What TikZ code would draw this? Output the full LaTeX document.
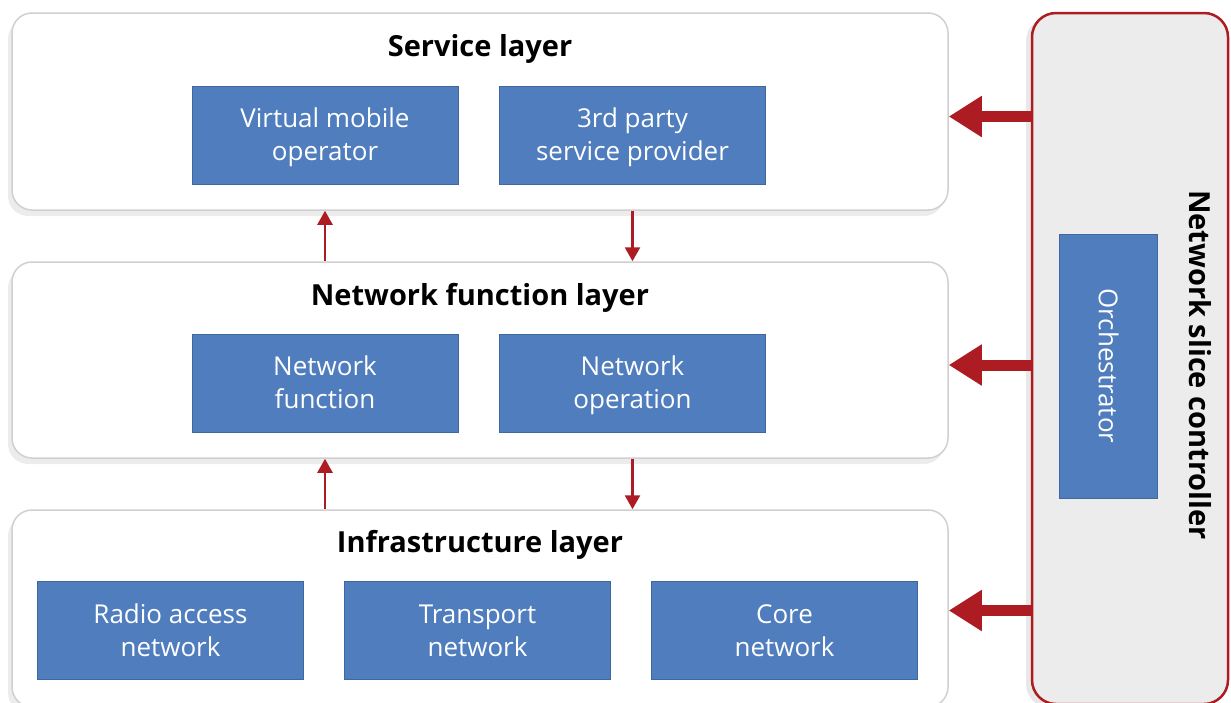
\documentclass[tikz,border=0pt]{standalone}
\usepackage{fontspec}
\setmainfont{Open Sans}
\usetikzlibrary{arrows.meta,shadows}
\definecolor{boxblue}{RGB}{79,125,189}
\definecolor{boxedge}{RGB}{62,104,158}
\definecolor{ctrlred}{RGB}{172,28,34}
\definecolor{ctrlgray}{RGB}{236,236,236}
\definecolor{layeredge}{RGB}{208,208,208}

\begin{document}
\begin{tikzpicture}[x=1pt,y=-1pt,
	layer/.style={draw=layeredge, line width=1.5pt, fill=white, rounded corners=20pt,
		minimum width=936pt, minimum height=197pt,
		drop shadow={opacity=0.15, shadow xshift=-4pt, shadow yshift=-6pt}},
	title/.style={font=\fontsize{29}{34}\selectfont\bfseries},
	block/.style={draw=boxedge, line width=1pt, fill=boxblue, text=white, align=center,
		minimum width=266pt, minimum height=98pt, font=\fontsize{26}{33}\selectfont,
		text height=61pt, text depth=10pt},
	uparrow/.style={draw=ctrlred, line width=2.5pt, -{Triangle[width=15pt,length=14pt]}},
	bigarrow/.style={draw=ctrlred, line width=11pt, -{Triangle[width=39pt,length=33pt]}}]
	%% page
	\useasboundingbox (0,0) rectangle (1231,702);
	\clip (0,0) rectangle (1231,702);
	%% controller
	\node[draw=ctrlred, line width=2.5pt, fill=ctrlgray, rounded corners=24pt,
		minimum width=196pt, minimum height=691pt,
		drop shadow={opacity=0.18, shadow xshift=-6pt, shadow yshift=-4pt}] (ctrl) at (1130,358.5) {};
	\node[rotate=-90, title] (ctrltitle) at (1200,365) {Network slice controller};
	\node[rotate=-90, draw=boxedge, line width=1pt, fill=boxblue, text=white,
		minimum width=264pt, minimum height=98pt, font=\fontsize{26}{33}\selectfont] (orch) at (1108.5,366) {Orchestrator};
	%% layers
	\node[layer] (service) at (480,111.5) {};
	\node[layer, minimum height=196pt] (nfl) at (480,360) {};
	\node[layer] (infra) at (480,608.5) {};
	\node[title] (svctitle) at (480,49) {Service layer};
	\node[title] (nfltitle) at (480,298) {Network function layer};
	\node[title] (infratitle) at (480,545) {Infrastructure layer};
	%% blocks
	\node[block] (vmo) at (325,135) {Virtual mobile\\operator};
	\node[block] (third) at (632.5,135) {3rd party\\service provider};
	\node[block] (netfn) at (325,383) {Network\\function};
	\node[block] (netop) at (632.5,383) {Network\\operation};
	\node[block] (ran) at (170.5,630.5) {Radio access\\network};
	\node[block] (trans) at (477.5,630.5) {Transport\\network};
	\node[block] (core) at (784.5,630.5) {Core\\network};
	%% arrows between layers
	\draw[uparrow] (vmo |- nfl.north) -- (vmo |- service.south);
	\draw[uparrow] (third |- service.south) -- (third |- nfl.north);
	\draw[uparrow] (netfn |- infra.north) -- (netfn |- nfl.south);
	\draw[uparrow] (netop |- nfl.south) -- (netop |- infra.north);
	%% controller arrows
	\draw[bigarrow] ([yshift=-5pt]ctrl.west |- service.east) -- ([yshift=-5pt]service.east);
	\draw[bigarrow] ([yshift=-5pt]ctrl.west |- nfl.east) -- ([yshift=-5pt]nfl.east);
	\draw[bigarrow] ([yshift=-2pt]ctrl.west |- infra.east) -- ([yshift=-2pt]infra.east);
\end{tikzpicture}
\end{document}
